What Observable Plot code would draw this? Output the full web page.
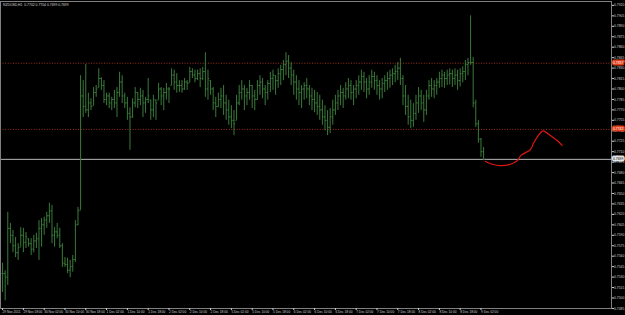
<!DOCTYPE html>
<html><head><meta charset="utf-8">
<script src="https://cdn.jsdelivr.net/npm/d3@7"></script>
<script src="https://cdn.jsdelivr.net/npm/@observablehq/plot@0.6"></script>
<style>
html,body{margin:0;padding:0;background:#000;overflow:hidden;}
#chart{width:625px;height:315px;}
</style></head><body><div id="chart"></div>
<script>
const symbolTitle = "NZDUSD,H1  0.7702 0.7704 0.7699 0.7699";
const high = [0.7550,0.7539,0.7623,0.7607,0.7597,0.7587,0.7578,0.7601,0.7600,0.7594,0.7585,0.7585,0.7590,0.7593,0.7611,0.7614,0.7616,0.7623,0.7636,0.7633,0.7601,0.7607,0.7600,0.7578,0.7558,0.7557,0.7554,0.7561,0.7611,0.7630,
0.7819,0.7812,0.7835,0.7794,0.7786,0.7802,0.7805,0.7829,0.7816,0.7812,0.7794,0.7794,0.7788,0.7798,0.7802,0.7824,0.7819,0.7794,0.7788,0.7773,
0.7786,0.7802,0.7795,0.7801,0.7798,0.7788,0.7815,0.7784,0.7791,0.7784,0.7808,0.7802,0.7801,0.7808,0.7802,0.7829,0.7827,0.7822,0.7812,0.7812,
0.7815,0.7812,0.7831,0.7829,0.7827,0.7827,0.7829,0.7831,0.7852,0.7827,0.7812,0.7802,0.7788,0.7794,0.7801,0.7805,0.7791,0.7784,0.7776,0.7769,
0.7791,0.7805,0.7812,0.7805,0.7801,0.7812,0.7805,0.7798,0.7812,0.7819,0.7815,0.7805,0.7812,0.7824,0.7827,0.7819,0.7829,0.7834,0.7841,0.7852,
0.7848,0.7838,0.7827,0.7819,0.7812,0.7805,0.7809,0.7815,0.7805,0.7801,0.7798,0.7795,0.7791,0.7784,0.7776,0.7769,0.7772,0.7784,0.7791,0.7798,
0.7805,0.7801,0.7809,0.7815,0.7812,0.7805,0.7812,0.7819,0.7827,0.7824,0.7815,0.7819,0.7827,0.7824,0.7819,0.7812,0.7815,0.7819,0.7824,0.7827,
0.7829,0.7834,0.7838,0.7844,0.7819,0.7805,0.7791,0.7784,0.7779,0.7791,0.7802,0.7798,0.7791,0.7798,0.7812,0.7815,0.7812,0.7815,0.7824,0.7827,
0.7824,0.7827,0.7829,0.7827,0.7829,0.7827,0.7829,0.7832,0.7841,0.7844,0.7905,0.7845,0.7784,0.7755,0.7729,0.7716];
const low = [0.7508,0.7496,0.7518,0.7578,0.7565,0.7558,0.7554,0.7573,0.7565,0.7571,0.7573,0.7561,0.7565,0.7571,0.7554,0.7573,0.7590,0.7600,0.7607,0.7578,0.7573,0.7585,0.7571,0.7544,0.7544,0.7535,0.7529,0.7537,0.7551,0.7604,
0.7626,0.7759,0.7765,0.7759,0.7769,0.7776,0.7788,0.7802,0.7798,0.7779,0.7776,0.7772,0.7769,0.7772,0.7759,0.7788,0.7779,0.7772,0.7755,0.7712,
0.7758,0.7773,0.7772,0.7776,0.7759,0.7765,0.7779,0.7755,0.7759,0.7755,0.7784,0.7776,0.7769,0.7784,0.7779,0.7805,0.7798,0.7794,0.7795,0.7794,
0.7798,0.7798,0.7809,0.7815,0.7809,0.7812,0.7802,0.7812,0.7788,0.7784,0.7791,0.7769,0.7759,0.7773,0.7772,0.7762,0.7755,0.7748,0.7743,0.7733,
0.7755,0.7776,0.7784,0.7769,0.7776,0.7784,0.7772,0.7769,0.7784,0.7791,0.7786,0.7776,0.7784,0.7795,0.7798,0.7791,0.7801,0.7805,0.7812,0.7819,
0.7815,0.7805,0.7791,0.7784,0.7776,0.7772,0.7784,0.7786,0.7776,0.7769,0.7766,0.7762,0.7755,0.7748,0.7740,0.7733,0.7736,0.7748,0.7762,0.7769,
0.7776,0.7772,0.7784,0.7786,0.7784,0.7776,0.7786,0.7791,0.7798,0.7795,0.7786,0.7791,0.7801,0.7798,0.7791,0.7784,0.7786,0.7795,0.7798,0.7801,
0.7805,0.7809,0.7812,0.7805,0.7776,0.7762,0.7748,0.7743,0.7745,0.7755,0.7765,0.7769,0.7752,0.7762,0.7784,0.7788,0.7786,0.7791,0.7801,0.7802,
0.7801,0.7805,0.7806,0.7802,0.7805,0.7798,0.7803,0.7809,0.7812,0.7819,0.7834,0.7773,0.7745,0.7722,0.7702,0.7697];
const close = [0.7535,0.7530,0.7600,0.7590,0.7575,0.7565,0.7572,0.7590,0.7580,0.7588,0.7578,0.7570,0.7582,0.7585,0.7600,0.7605,0.7612,0.7618,0.7625,0.7590,0.7595,0.7590,0.7575,0.7550,0.7548,0.7540,0.7545,0.7555,0.7605,0.7625,
0.7790,0.7775,0.7770,0.7780,0.7775,0.7795,0.7800,0.7815,0.7805,0.7785,0.7790,0.7780,0.7785,0.7780,0.7795,0.7810,0.7790,0.7780,0.7765,0.7760,
0.7780,0.7795,0.7785,0.7790,0.7780,0.7785,0.7790,0.7770,0.7785,0.7780,0.7800,0.7790,0.7795,0.7800,0.7800,0.7820,0.7810,0.7805,0.7805,0.7800,
0.7810,0.7808,0.7825,0.7820,0.7815,0.7822,0.7815,0.7825,0.7800,0.7815,0.7800,0.7780,0.7775,0.7785,0.7790,0.7780,0.7770,0.7760,0.7755,0.7750,
0.7780,0.7795,0.7800,0.7790,0.7795,0.7805,0.7790,0.7785,0.7805,0.7810,0.7800,0.7795,0.7808,0.7815,0.7820,0.7812,0.7822,0.7828,0.7835,0.7840,
0.7830,0.7820,0.7810,0.7800,0.7795,0.7800,0.7805,0.7800,0.7790,0.7785,0.7780,0.7775,0.7770,0.7760,0.7755,0.7745,0.7760,0.7770,0.7780,0.7790,
0.7795,0.7790,0.7800,0.7805,0.7795,0.7800,0.7805,0.7810,0.7818,0.7810,0.7800,0.7810,0.7818,0.7812,0.7805,0.7800,0.7808,0.7812,0.7815,0.7820,
0.7822,0.7825,0.7830,0.7815,0.7790,0.7775,0.7760,0.7755,0.7765,0.7780,0.7790,0.7780,0.7770,0.7790,0.7805,0.7800,0.7805,0.7810,0.7815,0.7820,
0.7815,0.7820,0.7822,0.7815,0.7820,0.7812,0.7822,0.7825,0.7835,0.7838,0.7838,0.7780,0.7750,0.7728,0.7710,0.7699];

const timeLabels = ["29 Nov 2011","29 Nov 18:00","30 Nov 02:00","30 Nov 10:00","30 Nov 18:00","1 Dec 02:00","1 Dec 10:00","1 Dec 18:00","2 Dec 02:00","2 Dec 10:00","2 Dec 18:00","5 Dec 02:00","5 Dec 10:00","5 Dec 18:00","6 Dec 02:00","6 Dec 10:00","6 Dec 18:00","7 Dec 02:00","7 Dec 10:00","7 Dec 18:00","8 Dec 02:00","8 Dec 10:00","8 Dec 18:00","9 Dec 02:00"];
const labelBars = [0,8,16,24,32,40,48,56,64,72,80,88,96,104,112,120,128,136,144,152,160,168,176,184];
const priceTicks = [0.7920,0.7905,0.7890,0.7875,0.7860,0.7845,0.7830,0.7815,0.7800,0.7785,0.7770,0.7755,0.7740,0.7725,0.7710,0.7695,0.7680,0.7665,0.7650,0.7635,0.7620,0.7605,0.7590,0.7575,0.7560,0.7545,0.7530,0.7515,0.7500,0.7485];
const levelLines = [0.7837, 0.7742];
const lastPrice = 0.7699;
const drawnBar = [185.7,188.3,191.5,195.4,197.9,199.5,203.0,204.2,206.0,207.9,210.0,213.3,215.2];
const drawnPrice = [0.7696,0.7692,0.7690,0.7692,0.7697,0.7705,0.7713,0.7722,0.7733,0.7740,0.7735,0.7726,0.7719];

const bars = high.map((h, i) => ({
  i, high: h, low: low[i], close: close[i],
  open: i === 0 ? close[0] : Math.min(h, Math.max(low[i], close[i - 1]))
}));
const drawn = drawnBar.map((b, k) => ({b, p: drawnPrice[k]}));
const fmt = d3.format(".4f");
const green = "#3a7a3a";

const chart = Plot.plot({
  width: 625, height: 315,
  marginLeft: 0, marginRight: 14, marginTop: 1, marginBottom: 7,
  style: {background: "#000", color: "#d0d0d0", fontFamily: "'Liberation Sans', Arial, sans-serif", overflow: "visible"},
  x: {domain: [-0.8, 234.2]},
  y: {domain: [0.74849, 0.79256]},
  marks: [
    Plot.ruleY(levelLines, {stroke: "#a0301c", strokeDasharray: "1 1.6"}),
    Plot.ruleY([lastPrice], {stroke: "#b8b8b8"}),
    Plot.ruleX(bars, {x: "i", y1: "low", y2: "high", stroke: green}),
    Plot.link(bars, {x1: d => d.i - 0.45, x2: "i", y1: "open", y2: "open", stroke: green}),
    Plot.link(bars, {x1: "i", x2: d => d.i + 0.45, y1: "close", y2: "close", stroke: green}),
    Plot.line(drawn, {x: "b", y: "p", stroke: "#e2160e", strokeWidth: 1.2, curve: "catmull-rom"}),
    Plot.frame({stroke: "#808080"}),
    Plot.axisY({anchor: "right", ticks: priceTicks, tickFormat: fmt, tickSize: 2, tickPadding: 0.5, fontSize: 3.4, color: "#d0d0d0", label: null}),
    Plot.axisX({anchor: "bottom", ticks: labelBars, tickFormat: d => timeLabels[labelBars.indexOf(d)], tickSize: 2, tickPadding: 0.5, textAnchor: "start", fontSize: 3.2, color: "#d0d0d0", label: null}),
    Plot.text(levelLines, {y: d => d, frameAnchor: "right", dx: 1.5, textAnchor: "start", text: d => fmt(d), fill: "#fff", stroke: "#e0401c", strokeWidth: 3, paintOrder: "stroke", fontSize: 3.4}),
    Plot.text([lastPrice], {y: d => d, frameAnchor: "right", dx: 1.5, textAnchor: "start", text: d => fmt(d), fill: "#000", stroke: "#e6e6e6", strokeWidth: 3, paintOrder: "stroke", fontSize: 3.4}),
    Plot.text([symbolTitle], {frameAnchor: "top-left", dx: 2.5, dy: 2, text: d => d, fill: "#d8d8d8", fontSize: 3.4, textAnchor: "start", lineAnchor: "top"})
  ]
});
document.getElementById("chart").appendChild(chart);
</script></body></html>
